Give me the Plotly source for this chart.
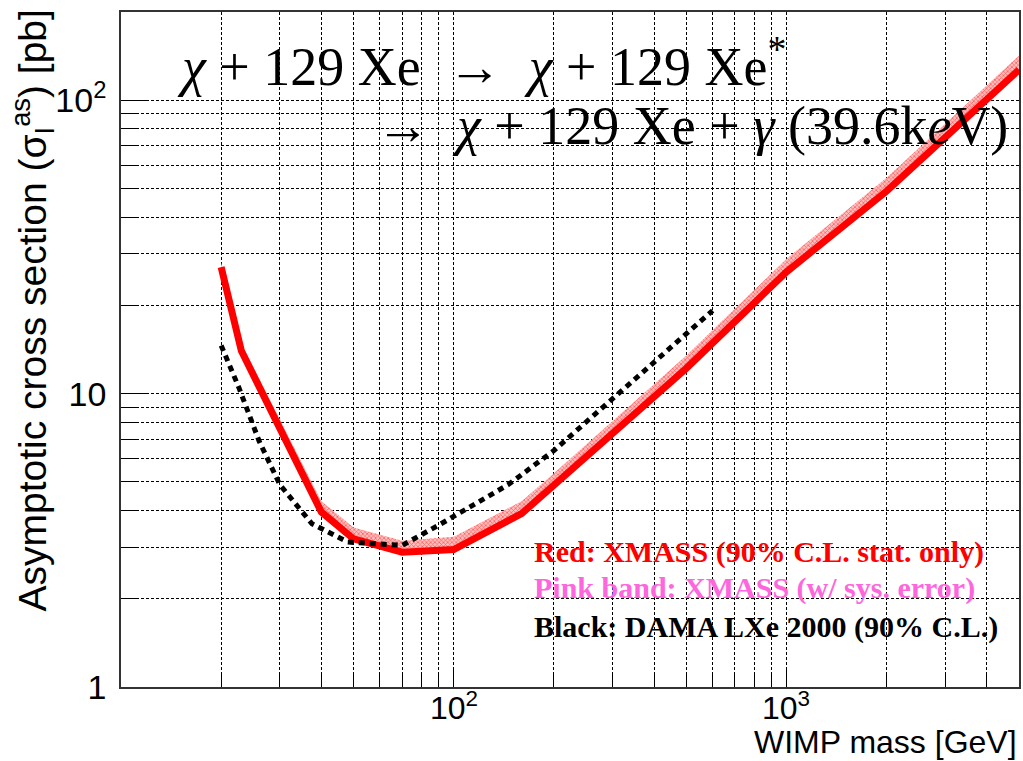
import math
import plotly.graph_objects as go

# ---- data ----
red_mass = [20, 23, 40, 50, 70, 100, 160, 200, 500, 1000, 2000, 5000]
red_sigma = [27, 14, 3.95, 3.2, 2.88, 2.94, 3.9, 4.86, 12.2, 26, 49, 127]
band_upper = [28, 14.8, 4.3, 3.5, 3.15, 3.25, 4.3, 5.35, 13.5, 28.8, 54.5, 142]

dama_mass = [20, 22.6, 26, 30, 37.5, 48, 70, 90, 146, 200, 600]
dama_sigma = [14.6, 10.5, 6.9, 4.9, 3.6, 3.12, 3.04, 3.56, 4.9, 6.4, 19.2]

x_major = [10, 100, 1000]
x_major_text = ["", "10<sup>2</sup>", "10<sup>3</sup>"]
x_minor = [20, 30, 40, 50, 60, 70, 80, 90, 200, 300, 400, 500, 600, 700, 800, 900,
           2000, 3000, 4000]
y_major = [1, 10, 100]
y_major_text = ["1", "10", "10<sup>2</sup>"]
y_minor = [2, 3, 4, 5, 6, 7, 8, 9, 20, 30, 40, 50, 60, 70, 80, 90, 200]

# ---- geometry helpers (pixel -> paper) ----
L, R, T, B = 121, 1021, 11.7, 686.7
def px(x):
    return (x - L) / (R - L)
def py(y):
    return (B - y) / (B - T)

fig = go.Figure()

# band base (red line, invisible)
fig.add_trace(go.Scatter(x=red_mass, y=red_sigma, mode="lines",
                         line=dict(width=0, color="red"), showlegend=False,
                         hoverinfo="skip"))
# band upper edge, filled down to red line
fig.add_trace(go.Scatter(x=red_mass, y=band_upper, mode="lines",
                         line=dict(width=0, color="red"), fill="tonexty",
                         fillcolor="rgba(255,90,90,0.7)",
                         fillpattern=dict(shape="x", fgcolor="#ff0000",
                                          bgcolor="#ffc0c0", size=3, solidity=0.45),
                         showlegend=False, hoverinfo="skip"))
# red line
fig.add_trace(go.Scatter(x=red_mass, y=red_sigma, mode="lines",
                         line=dict(width=7, color="#ff0000"), showlegend=False))
# DAMA dotted
fig.add_trace(go.Scatter(x=dama_mass, y=dama_sigma, mode="lines",
                         line=dict(width=5, color="black", dash="6px,5px"),
                         showlegend=False))

grid_dash = "3px,2px"
tickfont = dict(family="Liberation Sans, Arial, sans-serif", size=34, color="black")
xtickfont = dict(family="Liberation Sans, Arial, sans-serif", size=32, color="black")

fig.update_xaxes(type="log", range=[1, 3.69897], showline=True, mirror=True,
                 linecolor="#333", linewidth=1.5,
                 tickmode="array", tickvals=x_major, ticktext=x_major_text,
                 showticklabels=False,
                 ticks="inside", ticklen=20, tickcolor="black", tickwidth=1,
                 showgrid=True, gridcolor="black", gridwidth=1, griddash=grid_dash,
                 tickfont=tickfont, zeroline=False,
                 minor=dict(tickmode="array", tickvals=x_minor, ticks="inside",
                            ticklen=13, tickcolor="black", tickwidth=1,
                            showgrid=True, gridcolor="black", gridwidth=1,
                            griddash=grid_dash))
fig.update_yaxes(type="log", range=[0, 2.30103], showline=True, mirror=True,
                 linecolor="#333", linewidth=1.5,
                 tickmode="array", tickvals=y_major, ticktext=y_major_text,
                 ticks="inside", ticklen=27, tickcolor="black", tickwidth=1,
                 showgrid=True, gridcolor="black", gridwidth=1, griddash=grid_dash,
                 tickfont=tickfont, ticklabelstandoff=6, zeroline=False,
                 minor=dict(tickmode="array", tickvals=y_minor, ticks="inside",
                            ticklen=16, tickcolor="black", tickwidth=1,
                            showgrid=True, gridcolor="black", gridwidth=1,
                            griddash=grid_dash))

serif = "Liberation Serif, Times New Roman, serif"
arrow = "→"
ann = []
# x tick labels (placed as annotations, closer to the axis as in the reference)
for v, t in zip(x_major, x_major_text):
    if t:
        ann.append(dict(text=t, x=math.log10(v), xref="x", y=py(706), yref="paper",
                        xanchor="center", yanchor="middle", font=xtickfont))
# equation lines
ann.append(dict(text="<i>χ</i> + 129 Xe  " + arrow + "  <i>χ</i> + 129 Xe<sup>*</sup>",
                x=px(175), y=py(62), xanchor="left", yanchor="middle",
                font=dict(family=serif, size=54, color="black")))
ann.append(dict(text=arrow + "  <i>χ</i> + 129 Xe + <i>γ</i> (39.6k<i>e</i>V)",
                x=px(1012), y=py(126), xanchor="right", yanchor="middle",
                font=dict(family=serif, size=54, color="black")))
# legend texts
leg_font = "Liberation Serif, Times New Roman, serif"
ann.append(dict(text="<b>Red: XMASS (90% C.L. stat. only)</b>",
                x=px(533), y=py(552), xanchor="left", yanchor="middle",
                font=dict(family=leg_font, size=30, color="#ff0000")))
ann.append(dict(text="<b>Pink band: XMASS (w/ sys. error)</b>",
                x=px(533), y=py(588), xanchor="left", yanchor="middle",
                font=dict(family=leg_font, size=30, color="#ff66dd")))
ann.append(dict(text="<b>Black: DAMA LXe 2000 (90% C.L.)</b>",
                x=px(533), y=py(627), xanchor="left", yanchor="middle",
                font=dict(family=leg_font, size=30, color="black")))
# axis titles
ann.append(dict(text="WIMP mass [GeV]", x=1.0, y=py(742), xanchor="right",
                yanchor="middle",
                font=dict(family="Liberation Sans, Arial, sans-serif", size=32,
                          color="black")))
ann.append(dict(text="Asymptotic cross section (σ<sub>I</sub><sup>as</sup>) [pb]",
                textangle=-90, x=px(33), y=py(7), xanchor="center", yanchor="top",
                font=dict(family="Liberation Sans, Arial, sans-serif", size=39,
                          color="black")))
for a in ann:
    a.setdefault("xref", "paper")
    a.setdefault("yref", "paper")
    a["showarrow"] = False

fig.update_layout(width=1023, height=761, annotations=ann,
                  margin=dict(l=121, r=2, t=12, b=74),
                  plot_bgcolor="white", paper_bgcolor="white")

fig.write_html("out.html")
